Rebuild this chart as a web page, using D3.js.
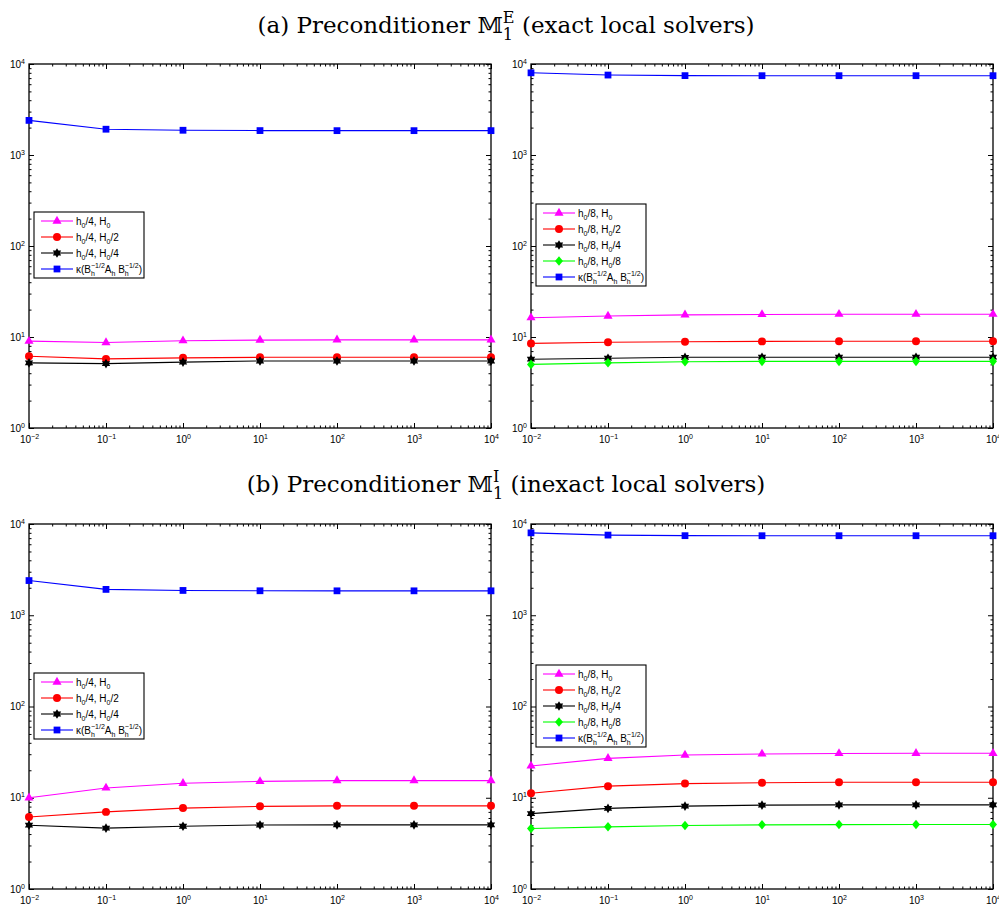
<!DOCTYPE html>
<html>
<head>
<meta charset="utf-8">
<script src="https://d3js.org/d3.v7.min.js"></script>
<style>
  body { margin: 0; background: #fff; }
  svg { display: block; }
  .tick text { font-family: "Liberation Sans", Arial, sans-serif; fill: #000; }
</style>
</head>
<body>
<script>
// x values (coefficient jump) shared by all panels
const xValues = [1e-2, 1e-1, 1e0, 1e1, 1e2, 1e3, 1e4];
const xTicks = [1e-2, 1e-1, 1e0, 1e1, 1e2, 1e3, 1e4];
const yTicks = [1e0, 1e1, 1e2, 1e3, 1e4];

// (a) exact local solvers, h0/4
const aLeftH0 = [9.0, 8.7, 9.1, 9.25, 9.3, 9.3, 9.3];
const aLeftH2 = [6.15, 5.75, 5.9, 5.98, 6.0, 6.0, 6.0];
const aLeftH4 = [5.2, 5.1, 5.3, 5.45, 5.45, 5.45, 5.45];
const aLeftKappa = [2400, 1920, 1870, 1855, 1852, 1852, 1852];
// (a) exact local solvers, h0/8
const aRightH0 = [16.3, 17.0, 17.5, 17.7, 17.8, 17.8, 17.8];
const aRightH2 = [8.5, 8.75, 8.88, 8.95, 8.97, 8.97, 8.97];
const aRightH4 = [5.7, 5.85, 5.98, 6.0, 6.0, 6.0, 6.0];
const aRightH8 = [5.0, 5.2, 5.35, 5.4, 5.4, 5.4, 5.4];
const aRightKappa = [8000, 7560, 7450, 7440, 7440, 7440, 7440];
// (b) inexact local solvers, h0/4
const bLeftH0 = [10.0, 12.8, 14.4, 15.1, 15.4, 15.4, 15.4];
const bLeftH2 = [6.15, 7.0, 7.7, 8.05, 8.15, 8.15, 8.15];
const bLeftH4 = [5.0, 4.65, 4.87, 5.03, 5.05, 5.05, 5.05];
const bLeftKappa = [2400, 1920, 1870, 1855, 1852, 1852, 1852];
// (b) inexact local solvers, h0/8
const bRightH0 = [22.3, 27.0, 29.4, 30.2, 30.6, 30.7, 30.7];
const bRightH2 = [11.2, 13.4, 14.3, 14.6, 14.8, 14.8, 14.8];
const bRightH4 = [6.7, 7.65, 8.1, 8.3, 8.35, 8.35, 8.35];
const bRightH8 = [4.6, 4.8, 4.97, 5.05, 5.08, 5.1, 5.1];
const bRightKappa = [8000, 7560, 7450, 7440, 7440, 7440, 7440];

const leftLabels = ["h_{0}/4, H_{0}", "h_{0}/4, H_{0}/2", "h_{0}/4, H_{0}/4", "κ(B_{h}^{−1/2}A_{h} B_{h}^{−1/2})"];
const rightLabels = ["h_{0}/8, H_{0}", "h_{0}/8, H_{0}/2", "h_{0}/8, H_{0}/4", "h_{0}/8, H_{0}/8", "κ(B_{h}^{−1/2}A_{h} B_{h}^{−1/2})"];
const titles = ["(a) Preconditioner 𝕄_{1}^{E} (exact local solvers)", "(b) Preconditioner 𝕄_{1}^{I} (inexact local solvers)"];

// custom markers (MATLAB hexagram and diamond)
const hexagram = {
  draw(ctx, size) {
    const r = Math.sqrt(size) * 0.62, ri = r / Math.sqrt(3);
    for (let i = 0; i < 12; i++) {
      const a = i * Math.PI / 6 - Math.PI / 2, rr = i % 2 ? ri : r;
      i ? ctx.lineTo(rr * Math.cos(a), rr * Math.sin(a)) : ctx.moveTo(rr * Math.cos(a), rr * Math.sin(a));
    }
    ctx.closePath();
  }
};
const diamond = {
  draw(ctx, size) {
    const w = Math.sqrt(size) * 0.6, h = w * 1.2;
    ctx.moveTo(0, -h); ctx.lineTo(w, 0); ctx.lineTo(0, h); ctx.lineTo(-w, 0); ctx.closePath();
  }
};

const styles = {
  H0: { color: "#ff00ff", symbol: d3.symbolTriangle, size: 36 },
  H2: { color: "#ff0000", symbol: d3.symbolCircle, size: 50 },
  H4: { color: "#000000", symbol: hexagram, size: 60 },
  H8: { color: "#00ff00", symbol: diamond, size: 44 },
  K:  { color: "#0000ff", symbol: d3.symbolSquare, size: 46 }
};

const panels = [
  { x0: 29, x1: 491, y0: 64, y1: 428, legendTop: 148, labels: leftLabels,
    series: [["H0", aLeftH0], ["H2", aLeftH2], ["H4", aLeftH4], ["K", aLeftKappa]] },
  { x0: 531, x1: 993, y0: 64, y1: 428, legendTop: 140, labels: rightLabels,
    series: [["H0", aRightH0], ["H2", aRightH2], ["H4", aRightH4], ["H8", aRightH8], ["K", aRightKappa]] },
  { x0: 29, x1: 491, y0: 524, y1: 889, legendTop: 149, labels: leftLabels,
    series: [["H0", bLeftH0], ["H2", bLeftH2], ["H4", bLeftH4], ["K", bLeftKappa]] },
  { x0: 531, x1: 993, y0: 524, y1: 889, legendTop: 141, labels: rightLabels,
    series: [["H0", bRightH0], ["H2", bRightH2], ["H4", bRightH4], ["H8", bRightH8], ["K", bRightKappa]] }
];

// text with _{sub} and ^{sup}; a sup right after a sub is stacked over it
function rich(sel, str, size) {
  const re = /([_^])\{([^}]*)\}|([^_^]+)/g;
  let level = 0, m, prev = null, prevType = null, extra = 0;
  while ((m = re.exec(str))) {
    const type = m[1] === "_" ? "sub" : m[1] === "^" ? "sup" : "base";
    const txt = m[2] !== undefined ? m[2] : m[3];
    const target = type === "sub" ? size * 0.3 : type === "sup" ? -size * 0.42 : 0;
    const t = sel.append("tspan").text(txt)
      .style("font-size", (type === "base" ? size : size * 0.7) + "px");
    if (target !== level) t.attr("dy", target - level);
    if (extra > 0) { t.attr("dx", extra); extra = 0; }
    if (type === "sup" && prevType === "sub") {
      const subW = prev.node().getComputedTextLength();
      t.attr("dx", -subW);
      extra = subW - t.node().getComputedTextLength();
    }
    level = target; prev = t; prevType = type;
  }
}

const svg = d3.select("body").append("svg").attr("width", 999).attr("height", 906);

// titles
[[506, 33], [506, 492]].forEach(([x, y], i) => {
  const t = svg.append("text").attr("x", x).attr("y", y)
    .attr("text-anchor", "middle")
    .style("font-family", "'DejaVu Serif', 'Liberation Serif', serif");
  rich(t, titles[i], 23);
});

// minor ticks for log axes
function minors(lo, hi) {
  const out = [];
  for (let e = lo; e < hi; e++) for (let k = 2; k <= 9; k++) out.push(k * Math.pow(10, e));
  return out;
}

panels.forEach(p => {
  const x = d3.scaleLog().domain([1e-2, 1e4]).range([p.x0, p.x1]);
  const y = d3.scaleLog().domain([1e0, 1e4]).range([p.y1, p.y0]);
  const g = svg.append("g");

  const fmt = function (d) {
    const t = d3.select(this).text(null);
    rich(t, "10^{" + String(Math.round(Math.log10(d))).replace("-", "−") + "}", 10);
  };

  // bottom / top ticks (inward)
  g.append("g").attr("transform", `translate(0,${p.y1})`)
    .call(d3.axisBottom(x).tickValues(xTicks).tickSizeInner(-5).tickSizeOuter(0).tickPadding(8))
    .call(a => a.selectAll(".tick text").each(fmt));
  g.append("g").attr("transform", `translate(0,${p.y1})`)
    .call(d3.axisBottom(x).tickValues(minors(-2, 4)).tickSizeInner(-2.5).tickSizeOuter(0).tickFormat(""));
  g.append("g").attr("transform", `translate(0,${p.y0})`)
    .call(d3.axisTop(x).tickValues(xTicks).tickSizeInner(-5).tickSizeOuter(0).tickFormat(""));
  g.append("g").attr("transform", `translate(0,${p.y0})`)
    .call(d3.axisTop(x).tickValues(minors(-2, 4)).tickSizeInner(-2.5).tickSizeOuter(0).tickFormat(""));

  // left / right ticks (inward)
  g.append("g").attr("transform", `translate(${p.x0},0)`)
    .call(d3.axisLeft(y).tickValues(yTicks).tickSizeInner(-5).tickSizeOuter(0).tickPadding(4))
    .call(a => a.selectAll(".tick text").each(fmt));
  g.append("g").attr("transform", `translate(${p.x0},0)`)
    .call(d3.axisLeft(y).tickValues(minors(0, 4)).tickSizeInner(-2.5).tickSizeOuter(0).tickFormat(""));
  g.append("g").attr("transform", `translate(${p.x1},0)`)
    .call(d3.axisRight(y).tickValues(yTicks).tickSizeInner(-5).tickSizeOuter(0).tickFormat(""));
  g.append("g").attr("transform", `translate(${p.x1},0)`)
    .call(d3.axisRight(y).tickValues(minors(0, 4)).tickSizeInner(-2.5).tickSizeOuter(0).tickFormat(""));

  g.selectAll(".domain").remove();
  g.selectAll(".tick line").attr("stroke", "#000").attr("stroke-width", 1);

  // frame
  g.append("rect").attr("x", p.x0).attr("y", p.y0)
    .attr("width", p.x1 - p.x0).attr("height", p.y1 - p.y0)
    .attr("fill", "none").attr("stroke", "#000").attr("stroke-width", 1.3);

  // series
  const line = d3.line().x((d, i) => x(xValues[i])).y(d => y(d));
  p.series.forEach(([key, vals]) => {
    const s = styles[key];
    g.append("path").datum(vals).attr("d", line)
      .attr("fill", "none").attr("stroke", s.color).attr("stroke-width", 1.1);
    g.selectAll(null).data(vals).enter().append("path")
      .attr("transform", (d, i) => `translate(${x(xValues[i])},${y(d)})`)
      .attr("d", d3.symbol(s.symbol, s.size)())
      .attr("fill", s.color);
  });

  // legend
  const n = p.series.length;
  const lx = p.x0 + 5, ly = p.y0 + p.legendTop;
  const lh = (n - 1) * 16 + 18;
  const leg = g.append("g");
  leg.append("rect").attr("x", lx).attr("y", ly).attr("width", 110).attr("height", lh)
    .attr("fill", "#fff").attr("stroke", "#000").attr("stroke-width", 1.1);
  p.series.forEach(([key], i) => {
    const s = styles[key];
    const cy = ly + 9 + i * 16;
    leg.append("line").attr("x1", lx + 7).attr("x2", lx + 39).attr("y1", cy).attr("y2", cy)
      .attr("stroke", s.color).attr("stroke-width", 1.1);
    leg.append("path").attr("transform", `translate(${lx + 23},${cy})`)
      .attr("d", d3.symbol(s.symbol, s.size)()).attr("fill", s.color);
    const t = leg.append("text").attr("x", lx + 42).attr("y", cy + 3.5)
      .style("font-family", "'Liberation Sans', Arial, sans-serif");
    rich(t, p.labels[i], 10);
  });
});
</script>
</body>
</html>
